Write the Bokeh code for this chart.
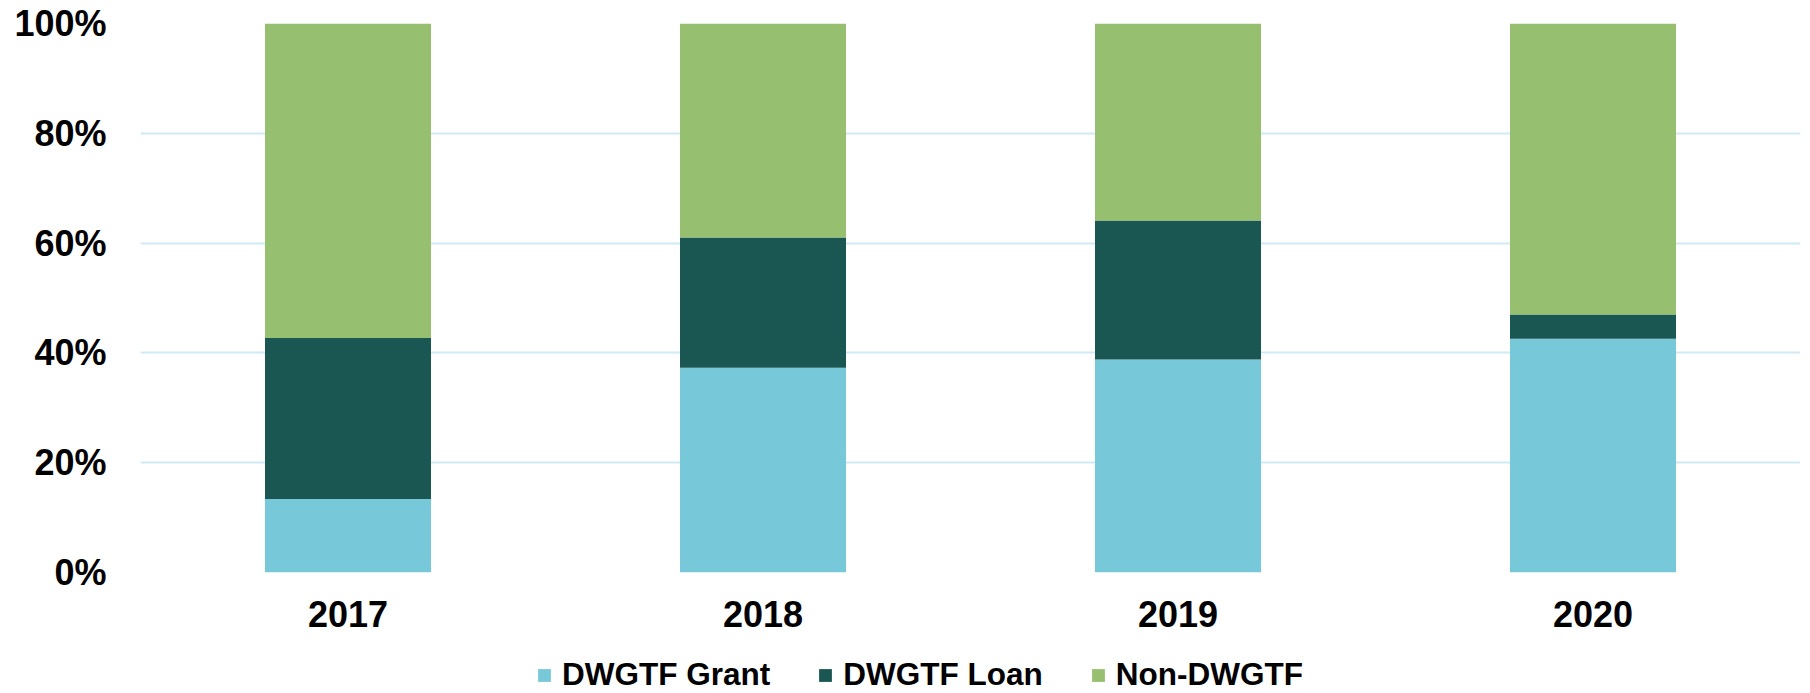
from bokeh.plotting import figure
from bokeh.layouts import column
from bokeh.models import (ColumnDataSource, FactorRange, Range1d, Legend, LegendItem,
                          NumeralTickFormatter, FixedTicker)
from bokeh.embed import file_html
from bokeh.resources import INLINE

years = ["2017", "2018", "2019", "2020"]
grant = [13.4, 37.3, 38.8, 42.6]
loan = [29.3, 23.7, 25.3, 4.4]
non_dwgtf = [57.3, 39.0, 35.9, 53.0]
series = ["DWGTF Grant", "DWGTF Loan", "Non-DWGTF"]
colors = ["#77C9DA", "#1A5652", "#96BF6F"]
y_ticks = [0, 0.2, 0.4, 0.6, 0.8, 1.0]

source = ColumnDataSource(data={
    "year": years,
    "grant": [v / 100 for v in grant],
    "loan": [v / 100 for v in loan],
    "non": [v / 100 for v in non_dwgtf],
})

FONT = "Liberation Sans"

# main chart
p = figure(width=1802, height=641, x_range=FactorRange(factors=years, range_padding=0),
           y_range=Range1d(0, 1), output_backend="svg", toolbar_location=None,
           min_border_left=140, min_border_right=2, min_border_top=23, min_border_bottom=69)

p.vbar_stack(["grant", "loan", "non"], x="year", width=0.4, color=colors,
             line_color=None, source=source)

p.outline_line_color = None
p.xgrid.grid_line_color = None
p.ygrid.grid_line_color = "#CFEAF4"
p.ygrid.grid_line_width = 2

p.yaxis.ticker = FixedTicker(ticks=y_ticks)
p.yaxis.formatter = NumeralTickFormatter(format="0%")
for ax in (p.xaxis[0], p.yaxis[0]):
    ax.axis_line_color = None
    ax.major_tick_line_color = None
    ax.minor_tick_line_color = None
    ax.major_tick_out = 0
    ax.major_tick_in = 0
    ax.major_label_text_font = FONT
    ax.major_label_text_font_style = "bold"
    ax.major_label_text_font_size = "36px"
    ax.major_label_text_color = "black"
p.yaxis.major_label_standoff = 34
p.xaxis.major_label_standoff = 28

# legend strip below the chart (swatch renderers have zero-size bars, only the legend shows)
pl = figure(width=1802, height=52, output_backend="svg", toolbar_location=None,
            x_axis_type=None, y_axis_type=None, min_border=0,
            x_range=Range1d(0, 1), y_range=Range1d(0, 1))
pl.outline_line_color = None
swatches = [pl.vbar(x=[0.5], top=[0], bottom=[0], width=0, color=c, line_color=None)
            for c in colors]

legend = Legend(items=[LegendItem(label=s, renderers=[r]) for s, r in zip(series, swatches)],
                orientation="horizontal", location=(396, 0),
                label_text_font=FONT, label_text_font_style="bold", label_text_font_size="31.5px",
                label_text_color="black", glyph_width=16, glyph_height=16, label_standoff=10,
                spacing=47, padding=0, margin=0, border_line_color=None,
                background_fill_alpha=0)
pl.add_layout(legend, "center")

layout = column(p, pl, spacing=0)
open("out.html", "w").write(file_html(layout, INLINE))
